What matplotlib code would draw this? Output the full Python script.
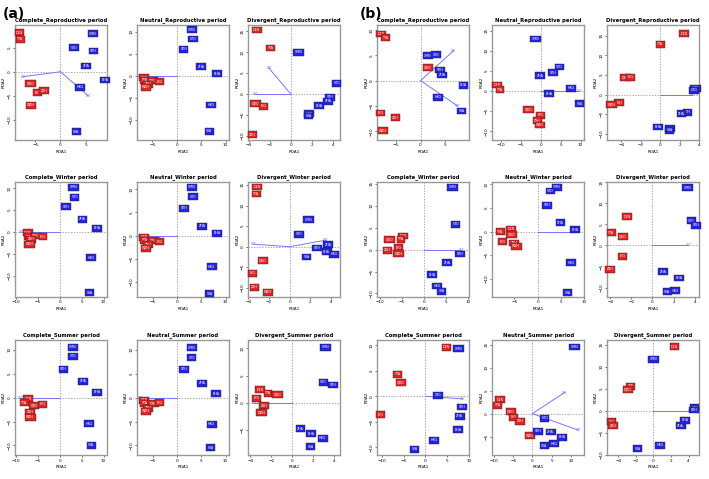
import matplotlib.pyplot as plt
from matplotlib.ticker import MultipleLocator

red_codes = ['DLN', 'YTA', 'QDO', 'LYG', 'ZSH', 'WZH']
blue_codes = ['XMN', 'STO', 'SZH', 'ZHA', 'BHA', 'HKG', 'SYA']

# (a) row 1 - reproductive period
a_cr_red = [(-8.1, 8.1), (-7.9, 6.7), (-5.9, -2.4), (-4.5, -4.3), (-3.2, -3.9), (-5.8, -6.9)]
a_cr_blue = [(6.4, 7.9), (2.7, 5.0), (6.5, 4.3), (5.1, 1.2), (8.8, -1.7), (3.9, -3.2), (3.1, -12.4)]
a_cr_env = [(-7.3, -1.0, 'LAT'), (5.5, -5.0, 'SST')]

a_nr_red = [(-6.8, -0.4), (-6.6, -1.0), (-4.9, -1.0), (-3.6, -1.3), (-5.9, -1.9), (-6.3, -2.6)]
a_nr_blue = [(3.1, 10.4), (3.3, 8.3), (1.4, 6.0), (5.0, 2.0), (8.2, 0.5), (7.0, -6.6), (6.6, -12.6)]
a_nr_env = [(-7.5, 0.0, 'LAT')]

a_dr_red = [(-3.26, 15.3), (-1.92, 11.0), (-3.35, -2.3), (-2.56, -2.9), (-3.64, -9.7)]
a_dr_blue = [(0.73, 10.0), (4.35, 2.6), (3.7, -0.7), (3.55, -1.7), (2.65, -2.8), (1.76, -4.7), (1.66, -5.2)]
a_dr_env = [(-2.08, 6.2, 'LAT'), (-3.4, 0.0, 'LAT')]

# (b) row 1
b_cr_red = [(-8.0, 9.2), (-7.1, 8.5), (1.5, 2.6), (-8.1, -6.4), (-5.1, -7.3), (-7.6, -9.9)]
b_cr_blue = [(1.5, 4.9), (3.1, 5.1), (3.9, 2.1), (4.4, 1.1), (8.7, -0.9), (3.5, -3.3), (8.3, -6.0)]
b_cr_env = [(6.7, 5.9, 'DIN'), (7.5, -5.0, 'SST')]

b_nr_red = [(-11.0, 1.5), (-10.2, 0.3), (-3.1, -4.5), (0.0, -6.0), (-0.8, -7.3), (-0.2, -8.4)]
b_nr_blue = [(-1.3, 12.9), (4.7, 5.95), (3.0, 4.5), (-0.2, 3.8), (2.1, -0.7), (7.6, 0.7), (9.8, -3.1)]
b_nr_env = [(9.7, 0.0, 'SST')]

b_dr_red = [(2.44, 15.6), (0.0, 12.8), (-3.6, 4.3), (-3.08, 4.4), (-4.27, -2.1), (-5.0, -2.6)]
b_dr_blue = [(3.63, 1.6), (3.5, 1.1), (2.8, -4.5), (2.2, -4.9), (-0.27, -8.3), (0.98, -8.7), (1.0, -9.1)]
b_dr_env = [(3.3, 0.0, 'SST')]

# row 2 - winter period
a_cw_red = [(-7.3, -0.2), (-7.1, -1.1), (-5.4, -0.9), (-3.8, -1.1), (-6.5, -1.7), (-6.8, -2.8)]
a_cw_blue = [(3.2, 10.2), (3.4, 7.9), (1.5, 5.8), (5.2, 2.9), (8.6, 0.85), (7.1, -5.9), (6.8, -13.8)]
a_cw_env = [(-8.7, 0.0, 'LAT')]

a_nw_red = [(-6.9, -0.4), (-6.7, -1.0), (-4.9, -1.0), (-3.6, -1.3), (-6.0, -2.0), (-6.4, -2.7)]
a_nw_blue = [(3.1, 10.4), (3.3, 8.3), (1.45, 5.9), (5.1, 2.0), (8.3, 0.5), (7.1, -6.7), (6.7, -12.5)]
a_nw_env = [(-7.6, 0.0, 'LAT')]

a_dw_red = [(-3.15, 14.5), (-3.25, 12.8), (-2.6, -3.3), (-3.57, -6.4), (-3.4, -9.8), (-2.1, -11.1)]
a_dw_blue = [(1.84, 6.6), (0.89, 3.0), (2.66, -0.3), (3.7, 0.5), (3.57, -1.2), (4.33, -1.8), (1.67, -2.5)]
a_dw_env = [(-3.48, 0.6, 'LAT'), (3.5, 1.6, 'SST')]

b_cw_red = [(-4.7, 3.1), (-5.2, 2.35), (-7.8, 2.3), (-5.7, 0.4), (-8.3, -0.15), (-5.8, -0.9)]
b_cw_blue = [(6.5, 14.2), (7.2, 5.8), (8.2, -1.0), (5.2, -3.0), (1.9, -5.7), (2.96, -8.3), (4.0, -9.5)]
b_cw_env = [(8.6, 0.0, 'SST')]

b_nw_red = [(-5.65, 0.5), (-8.0, 0.0), (-5.6, -0.6), (-7.6, -2.1), (-5.1, -2.4), (-4.6, -3.1)]
b_nw_blue = [(4.2, 9.4), (2.75, 8.6), (1.95, 5.6), (4.9, 1.9), (8.0, 0.4), (7.1, -6.6), (6.5, -12.9)]
b_nw_env = [(8.0, 0.0, 'SST')]

b_dw_red = [(-2.4, 6.8), (-3.87, 3.0), (-2.8, 2.2), (-2.8, -2.6), (-4.0, -5.6)]
b_dw_blue = [(3.32, 13.6), (3.67, 5.8), (4.1, 4.8), (1.02, -6.2), (2.52, -7.7), (2.14, -10.7), (1.4, -11.0)]
b_dw_env = [(3.4, 0.0, 'SST')]

# row 3 - summer period
a_cs_red = [(-7.2, -0.2), (-8.1, -1.1), (-5.8, -1.6), (-3.9, -1.4), (-6.7, -3.0), (-6.7, -4.1)]
a_cs_blue = [(3.0, 10.5), (3.0, 8.6), (0.9, 5.9), (5.3, 3.4), (8.5, 1.1), (6.7, -5.5), (7.2, -10.0)]
a_cs_env = [(-9.0, 0.0, 'LAT')]

a_ns_red = [(-6.9, -0.6), (-6.7, -1.2), (-4.9, -1.2), (-3.6, -1.1), (-6.0, -2.2), (-6.4, -2.9)]
a_ns_blue = [(3.1, 10.4), (3.0, 8.3), (1.4, 5.9), (5.1, 3.0), (8.0, 0.8), (7.1, -5.6), (6.9, -10.5)]
a_ns_env = [(-7.6, 0.0, 'LAT')]

a_ds_red = [(-3.1, 2.4), (-2.3, 1.8), (-1.4, 1.5), (-3.4, 0.9), (-2.7, -0.5), (-2.9, -1.8)]
a_ds_blue = [(3.2, 10.2), (3.0, 3.8), (3.9, 3.3), (0.8, -4.7), (1.8, -5.6), (2.9, -6.4), (1.8, -8.0)]
a_ds_env = [(-3.6, 0.0, 'LAT')]

b_cs_red = [(4.8, 9.6), (-6.3, 4.3), (-5.6, 2.7), (-10.2, -3.6)]
b_cs_blue = [(7.5, 9.3), (2.9, 0.2), (8.3, -2.1), (7.8, -3.9), (7.4, -6.5), (1.9, -8.6), (-2.4, -10.4)]
b_cs_env = [(8.5, -0.5, 'SST')]

b_ns_red = [(-8.5, 3.0), (-9.0, 1.8), (-5.6, 0.4), (-4.8, -0.8), (-3.2, -1.7), (-0.6, -4.8)]
b_ns_blue = [(11.0, 14.5), (3.2, -1.0), (1.5, -3.8), (4.8, -4.0), (7.8, -5.1), (5.6, -6.5), (3.1, -7.0)]
b_ns_env = [(8.4, 4.6, 'DIN'), (12.0, -3.6, 'SST')]

b_ds_red = [(2.4, 14.5), (-2.6, 5.6), (-2.9, 4.9), (-4.8, -2.5), (-4.6, -3.4)]
b_ds_blue = [(0.0, 11.7), (4.7, 0.7), (4.6, 0.2), (3.1, -3.4), (3.6, -2.1), (0.8, -7.8), (-1.8, -8.6)]
b_ds_env = [(4.2, 0.0, 'SST')]

titles = ['Complete_Reproductive period', 'Neutral_Reproductive period', 'Divergent_Reproductive period',
          'Complete_Winter period', 'Neutral_Winter period', 'Divergent_Winter period',
          'Complete_Summer period', 'Neutral_Summer period', 'Divergent_Summer period']

panels = [
    [(a_cr_red, a_cr_blue, a_cr_env), (a_nr_red, a_nr_blue, a_nr_env), (a_dr_red, a_dr_blue, a_dr_env),
     (b_cr_red, b_cr_blue, b_cr_env), (b_nr_red, b_nr_blue, b_nr_env), (b_dr_red, b_dr_blue, b_dr_env)],
    [(a_cw_red, a_cw_blue, a_cw_env), (a_nw_red, a_nw_blue, a_nw_env), (a_dw_red, a_dw_blue, a_dw_env),
     (b_cw_red, b_cw_blue, b_cw_env), (b_nw_red, b_nw_blue, b_nw_env), (b_dw_red, b_dw_blue, b_dw_env)],
    [(a_cs_red, a_cs_blue, a_cs_env), (a_ns_red, a_ns_blue, a_ns_env), (a_ds_red, a_ds_blue, a_ds_env),
     (b_cs_red, b_cs_blue, b_cs_env), (b_ns_red, b_ns_blue, b_ns_env), (b_ds_red, b_ds_blue, b_ds_env)],
]

# axis limits (xmin, xmax, ymin, ymax, xstep, ystep)
limits = [
    [(-9, 9.2, -14.1, 9.7, 5, 5), (-8.2, 10.7, -14.5, 11.5, 5, 5), (-4.06, 4.7, -10.9, 16.5, 2, 5),
     (-8.8, 9.9, -11.7, 11.0, 5, 5), (-12.2, 10.9, -12.1, 16.4, 5, 5), (-5.5, 4.0, -11.6, 17.8, 2, 5)],
    [(-10.2, 10.8, -14.8, 11.4, 5, 5), (-8.3, 10.7, -13.2, 11.5, 5, 5), (-4.03, 4.9, -12.2, 15.7, 2, 5),
     (-10.6, 10.3, -10.8, 15.4, 5, 5), (-9.8, 10.0, -13.8, 10.5, 5, 5), (-4.3, 4.4, -12.2, 15.0, 2, 5)],
    [(-10.2, 10.8, -12.0, 12.0, 5, 5), (-8.3, 10.7, -12.0, 12.0, 5, 5), (-4.2, 4.6, -9.5, 11.5, 2, 5),
     (-11.0, 10.0, -11.5, 11.0, 5, 5), (-10.5, 13.5, -9.0, 16.0, 5, 5), (-5.3, 5.2, -10.0, 16.0, 2, 5)],
]

col_left = [0.021, 0.193, 0.350, 0.532, 0.694, 0.856]
row_bottom = [0.708, 0.380, 0.050]
ax_w, ax_h = 0.130, 0.240

fig = plt.figure(figsize=(7.09, 4.79), dpi=100)

for r in range(3):
    for c in range(6):
        red, blue, env = panels[r][c]
        x0, x1, y0, y1, xs, ys = limits[r][c]
        ax = fig.add_axes([col_left[c], row_bottom[r], ax_w, ax_h])
        ax.set_xlim(x0, x1)
        ax.set_ylim(y0, y1)
        ax.axhline(0, color='#888888', lw=0.5, ls=(0, (2, 2)))
        ax.axvline(0, color='#888888', lw=0.5, ls=(0, (2, 2)))
        for ex, ey, lab in env:
            ax.plot([0, ex], [0, ey], color='#7777ff', lw=0.7)
            ax.text(ex, ey, lab, fontsize=2.2, color='#7777ff', ha='center', va='center')
        for i, (px, py) in enumerate(red):
            ax.text(px, py, red_codes[i % len(red_codes)], fontsize=2.3, color='white', ha='center', va='center',
                    bbox=dict(boxstyle='square,pad=0.45', fc='#e02424', ec='#222222', lw=0.3))
        for i, (px, py) in enumerate(blue):
            ax.text(px, py, blue_codes[i % len(blue_codes)], fontsize=2.3, color='white', ha='center', va='center',
                    bbox=dict(boxstyle='square,pad=0.45', fc='#2424e0', ec='#222222', lw=0.3))
        ax.xaxis.set_major_locator(MultipleLocator(xs))
        ax.yaxis.set_major_locator(MultipleLocator(ys))
        ax.tick_params(labelsize=3, length=1.5, width=0.4, pad=1)
        for lbl in ax.get_yticklabels():
            lbl.set_rotation(90)
            lbl.set_va('center')
        for sp in ax.spines.values():
            sp.set_color('#999999')
            sp.set_linewidth(1.0)
        ax.set_title(titles[r * 3 + c % 3], fontsize=3.8, fontweight='bold', pad=3)
        ax.set_xlabel('RDA1', fontsize=3, labelpad=2)
        ax.set_ylabel('RDA2', fontsize=3, labelpad=1)

fig.text(0.004, 0.985, '(a)', fontsize=10, fontweight='bold', va='top')
fig.text(0.508, 0.985, '(b)', fontsize=10, fontweight='bold', va='top')

fig.savefig('out.png', dpi=100)
